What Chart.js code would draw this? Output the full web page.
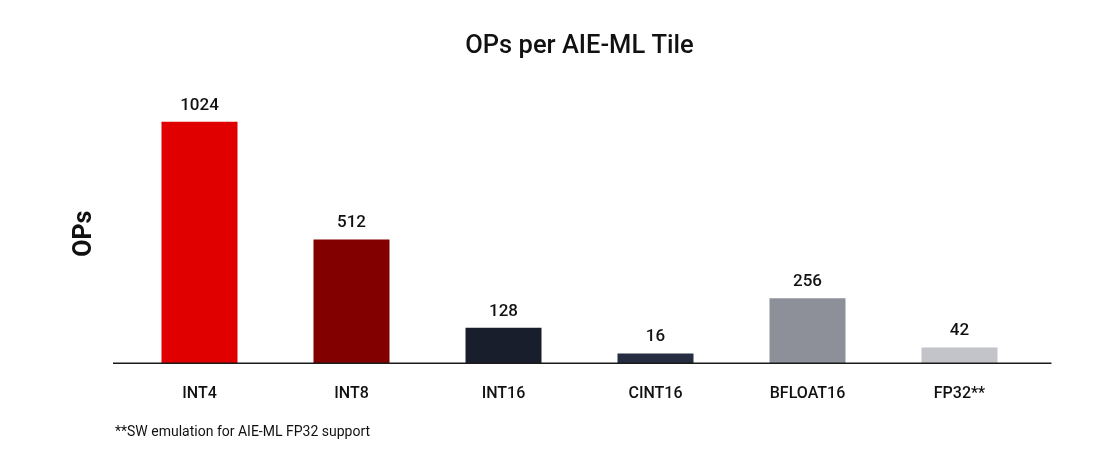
<!DOCTYPE html>
<html>
<head>
<meta charset="utf-8">
<title>OPs per AIE-ML Tile</title>
<script src="https://cdn.jsdelivr.net/npm/chart.js@4"></script>
<style>
    html, body { margin: 0; padding: 0; background: #fff; }
    canvas { display: block; }
</style>
</head>
<body>
<canvas id="ops-chart" width="1120" height="475"></canvas>
<script>
const categories = ['INT4', 'INT8', 'INT16', 'CINT16', 'BFLOAT16', 'FP32**'];
const opsValues = [1024, 512, 128, 16, 256, 42];
const barColors = ['#e10000', '#820000', '#191e2d', '#272d40', '#8d9099', '#c3c4c9'];
const footnote = '**SW emulation for AIE-ML FP32 support';

const textColor = '#111111';
const axisBase = -27;

// value labels above each bar
const valueLabels = {
    id: 'valueLabels',
    afterDatasetsDraw(chart) {
        const ctx = chart.ctx;
        const meta = chart.getDatasetMeta(0);
        ctx.save();
        ctx.font = '500 17px Roboto';
        ctx.fillStyle = textColor;
        ctx.textAlign = 'center';
        ctx.textBaseline = 'alphabetic';
        meta.data.forEach((bar, i) => {
            ctx.fillText(String(opsValues[i]), bar.x, bar.y - 12);
        });
        ctx.restore();
    }
};

// baseline a bit wider than the plot area, plus the footnote
const baseLineAndNote = {
    id: 'baseLineAndNote',
    afterDraw(chart) {
        const ctx = chart.ctx;
        const area = chart.chartArea;
        const y = chart.scales.y.getPixelForValue(axisBase);
        ctx.save();
        ctx.strokeStyle = '#1a1a1a';
        ctx.lineWidth = 1.5;
        ctx.beginPath();
        ctx.moveTo(area.left - 10.5, y);
        ctx.lineTo(area.right + 16, y);
        ctx.stroke();

        ctx.font = '14px Roboto';
        ctx.fillStyle = textColor;
        ctx.textAlign = 'left';
        ctx.textBaseline = 'middle';
        ctx.fillText(footnote, 115, 432);
        ctx.restore();
    }
};

const ctx = document.getElementById('ops-chart').getContext('2d');
const chart = new Chart(ctx, {
    type: 'bar',
    data: {
        labels: categories,
        datasets: [{
            label: 'OPs',
            data: opsValues,
            backgroundColor: barColors,
            borderWidth: 0,
            base: axisBase,
            barPercentage: 0.5,
            categoryPercentage: 1.0
        }]
    },
    options: {
        responsive: false,
        animation: false,
        devicePixelRatio: 1,
        layout: {
            padding: { left: 0, right: 84.5, top: 0, bottom: 0 }
        },
        plugins: {
            legend: { display: false },
            tooltip: { enabled: false },
            title: {
                display: true,
                fullSize: false,
                text: 'OPs per AIE-ML Tile',
                color: textColor,
                font: { family: 'Roboto', size: 25.5, weight: '500', lineHeight: 1.2 },
                padding: { top: 31.7, bottom: 41.9 }
            }
        },
        scales: {
            x: {
                grid: { display: false, drawTicks: false },
                border: { display: false },
                ticks: {
                    color: textColor,
                    padding: 21,
                    font: { family: 'Roboto', size: 16, weight: '500' }
                },
                afterFit(scale) { scale.height = 111.7; }
            },
            y: {
                min: axisBase,
                max: 1100,
                grid: { display: false, drawTicks: false },
                border: { display: false },
                ticks: { display: false },
                title: {
                    display: true,
                    text: 'OPs',
                    color: textColor,
                    font: { family: 'Roboto', size: 25, weight: 'bold', lineHeight: 1.2 },
                    padding: { top: 69.5, bottom: 0 }
                },
                afterFit(scale) { scale.width = 123.5; }
            }
        }
    },
    plugins: [valueLabels, baseLineAndNote]
});
</script>
</body>
</html>
